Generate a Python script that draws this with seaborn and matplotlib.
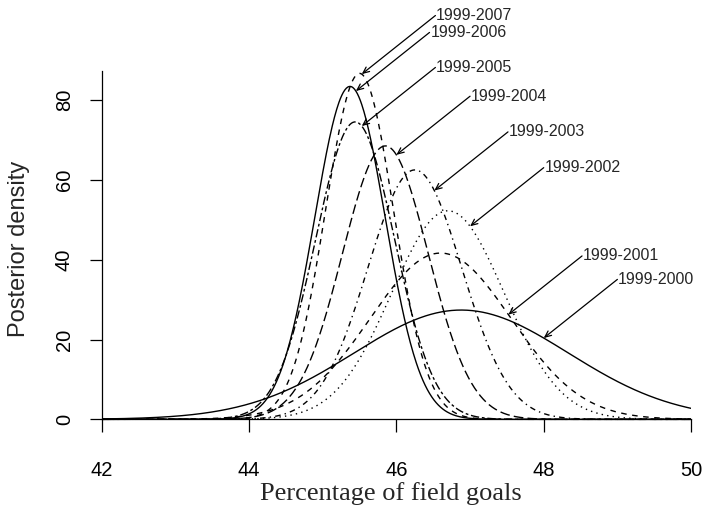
import numpy as np
import pandas as pd
import matplotlib
matplotlib.use("Agg")
import matplotlib.pyplot as plt
import seaborn as sns

# ---- data -------------------------------------------------------------
periods = ["1999-2000", "1999-2001", "1999-2002", "1999-2003",
           "1999-2004", "1999-2005", "1999-2006", "1999-2007"]
post_mean = [46.88, 46.60, 46.70, 46.25, 45.85, 45.44, 45.37, 45.50]   # % field goals
post_sd = [1.456, 0.957, 0.763, 0.638, 0.582, 0.535, 0.478, 0.460]     # percentage points
arrow_x = [48.00, 47.52, 47.00, 46.515, 46.00, 45.53, 45.45, 45.53]    # where each label arrow hits its curve
x_ticks = [42, 44, 46, 48, 50]
y_ticks = [0, 20, 40, 60, 80]

line_dashes = {"1999-2000": "", "1999-2001": (4, 4), "1999-2002": (1, 3),
               "1999-2003": (1, 3, 4, 3), "1999-2004": (7, 3),
               "1999-2005": (2, 2, 6, 2), "1999-2006": "", "1999-2007": (4, 4)}

# ---- posterior densities (normal, density per unit proportion) ---------
grid = np.linspace(42, 50, 801)


def posterior_density(x, m, s):
    sp = s / 100.0
    return np.exp(-0.5 * ((x - m) / s) ** 2) / (sp * np.sqrt(2 * np.pi))


rows = []
for p, m, s in zip(periods, post_mean, post_sd):
    rows.append(pd.DataFrame({"pct": grid, "density": posterior_density(grid, m, s), "period": p}))
df = pd.concat(rows, ignore_index=True)

# ---- figure -------------------------------------------------------------
sns.set_style("ticks")
plt.rcParams["font.family"] = ["Liberation Sans", "DejaVu Sans"]

fig = plt.figure(figsize=(7.03, 5.20), dpi=100)
ax = fig.add_axes([0.1447, 0.1675, 0.8383, 0.6965])

sns.lineplot(data=df, x="pct", y="density", style="period", dashes=line_dashes,
             color="black", lw=1.0, legend=False, estimator=None, ax=ax)

ax.set_xlim(42, 50)
ax.set_ylim(-3.4, 87.4)

for sp in ["top", "right"]:
    ax.spines[sp].set_visible(False)
ax.spines["left"].set_position(("data", 42))
ax.spines["bottom"].set_position(("data", 0))
ax.spines["left"].set_bounds(0, 87.4)
ax.spines["bottom"].set_bounds(42, 50)
for sp in ["left", "bottom"]:
    ax.spines[sp].set_linewidth(0.9)
    ax.spines[sp].set_color("black")

ax.set_xticks(x_ticks)
ax.set_yticks(y_ticks)
ax.set_xticklabels([str(v) for v in x_ticks])
ax.set_yticklabels([str(v) for v in y_ticks])
ax.tick_params(axis="both", direction="out", length=9, width=0.9, colors="black",
               labelsize=14.5)
ax.tick_params(axis="x", pad=21)
ax.tick_params(axis="y", pad=11, labelrotation=90)
for t in ax.get_yticklabels():
    t.set_va("center")

ax.set_xlabel("Percentage of field goals", fontsize=19,
              fontfamily=["Liberation Serif", "DejaVu Serif"], va="center")
ax.xaxis.set_label_coords(0.49, -0.168)
ax.set_ylabel("Posterior density", fontsize=17, va="center")
ax.yaxis.set_label_coords(-0.1403, 0.5077)

# ---- labels with arrows -------------------------------------------------
for p, m, s, hx in zip(periods, post_mean, post_sd, arrow_x):
    hy = posterior_density(hx, m, s)
    tx, ty = hx + 1.0, hy + 14.7
    ax.annotate("", xy=(hx, hy), xytext=(tx, ty), annotation_clip=False,
                arrowprops=dict(arrowstyle="->,head_length=0.45,head_width=0.2",
                                color="black", lw=0.9, shrinkA=0, shrinkB=0))
    ax.text(tx + 0.01, ty, p, ha="left", va="center", fontsize=11.5, clip_on=False)

fig.savefig("out.png", dpi=100)
